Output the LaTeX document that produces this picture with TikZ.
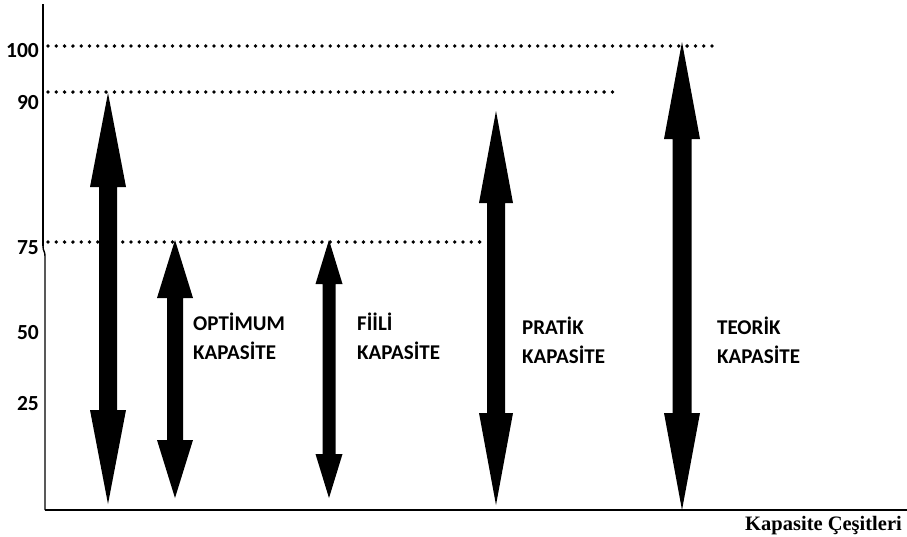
\documentclass[tikz,border=0pt]{standalone}
\usepackage{fontspec}
\setmainfont{Carlito}
\newfontfamily\titlefont{Liberation Serif}
\usetikzlibrary{calc}
\tikzset{kaplabel/.style={font=\bfseries\fontsize{21}{29}\selectfont,anchor=base west,inner sep=0pt}}
\tikzset{ticklabel/.style={font=\bfseries\fontsize{21.5}{24}\selectfont,anchor=base east,inner sep=0pt}}

% x, top, bottom, half shaft, half head, head length
\newcommand{\kaparrow}[6]{%
\fill (#1,#2) -- (#1+#5,#2+#6) -- (#1+#4,#2+#6) -- (#1+#4,#3-#6) -- (#1+#5,#3-#6)
  -- (#1,#3) -- (#1-#5,#3-#6) -- (#1-#4,#3-#6) -- (#1-#4,#2+#6) -- (#1-#5,#2+#6) -- cycle;}
% dotted level line: y, last x
\newcommand{\levelline}[2]{%
\foreach \x in {48,56.3,...,#2} \fill (\x,#1) circle[radius=1.9];}

\begin{document}
\begin{tikzpicture}[x=1pt,y=-1pt]
\useasboundingbox (0,0) rectangle (907,536);
\coordinate (top) at (43,4);
\coordinate (brk) at (43,246);
\coordinate (O) at (45,510);
\coordinate (xend) at (907,510);
\draw[line width=2pt] (top) -- (brk);
\draw[line width=1.4pt] (brk) .. controls (43,252) and (45,250) .. (45,257) -- (O);
\draw[line width=2pt] (O) -- (xend);
\node[font=\titlefont\bfseries\fontsize{20.5}{22}\selectfont,anchor=base east,inner sep=0pt] (title) at (902,530) {Kapasite Çeşitleri};
% levels
\levelline{46}{718}
\levelline{92}{620}
\levelline{242}{487}
\node[ticklabel] (t100) at (39,57) {100};
\node[ticklabel] (t90) at (39,109) {90};
\node[ticklabel] (t75) at (39,254) {75};
\node[ticklabel] (t50) at (39,339) {50};
\node[ticklabel] (t25) at (39,410) {25};
% arrows
\kaparrow{108}{93}{504}{9}{18}{94}
\kaparrow{175}{240}{498}{8}{18}{58}
\kaparrow{329}{240}{498}{6.5}{13.5}{44}
\kaparrow{496}{111}{505}{9}{17}{92}
\kaparrow{682}{42}{510}{9.5}{18}{97}
\node[kaplabel] (optimum) at (193,330) {OPTİMUM};
\node[kaplabel] (optimumk) at ($(optimum.base west)+(0,29)$) {KAPASİTE};
\node[kaplabel] (fiili) at (357,330) {FİİLİ};
\node[kaplabel] (fiilik) at ($(fiili.base west)+(0,29)$) {KAPASİTE};
\node[kaplabel] (pratik) at (522,334) {PRATİK};
\node[kaplabel] (pratikk) at ($(pratik.base west)+(0,29)$) {KAPASİTE};
\node[kaplabel] (teorik) at (717,334) {TEORİK};
\node[kaplabel] (teorikk) at ($(teorik.base west)+(0,29)$) {KAPASİTE};
\end{tikzpicture}
\end{document}
